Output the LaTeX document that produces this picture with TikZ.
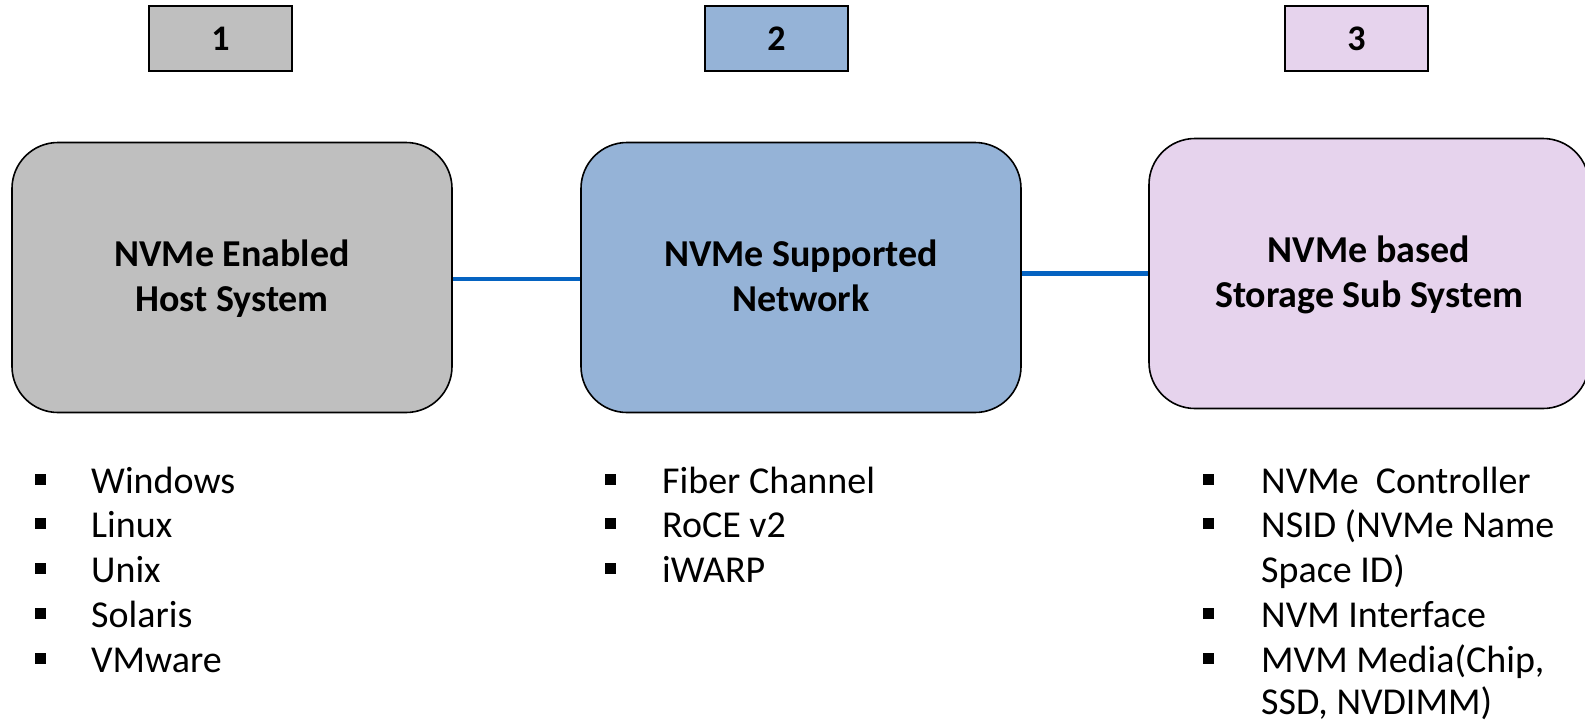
\documentclass[tikz,border=0pt]{standalone}
\usepackage{fontspec}
\setmainfont{Carlito}
\definecolor{hostgray}{HTML}{BFBFBF}
\definecolor{netblue}{HTML}{95B3D7}
\definecolor{storlilac}{HTML}{E6D3ED}
\definecolor{linkblue}{HTML}{0563C1}
% fixed line height so every two-line title sits at the same place
\newcommand{\titlestrut}{\rule[-10pt]{0pt}{43pt}}
\begin{document}
\begin{tikzpicture}[x=1pt,y=-1pt,
  tag/.style={draw=black, line width=1.4pt, minimum width=143pt, minimum height=65pt,
    inner sep=0pt, font=\fontsize{36}{40}\selectfont\bfseries},
  block/.style={draw=black, line width=1.6pt, rounded corners=46pt, minimum width=440pt,
    minimum height=270pt, inner sep=0pt, align=center,
    font=\fontsize{38}{45}\selectfont\bfseries},
  link/.style={draw=linkblue, line width=4.5pt},
  item/.style={anchor=base west, inner sep=0pt, font=\fontsize{38}{45}\selectfont},
  bul/.style={fill=black, minimum size=11pt, inner sep=0pt}]
\useasboundingbox (0,0) rectangle (1585,723);

% step numbers
\node[tag, fill=hostgray]  (t1) at (220.5,38.5) {1};
\node[tag, fill=netblue]   (t2) at (776.5,38.5) {2};
\node[tag, fill=storlilac] (t3) at (1356.5,38.5) {3};

% main blocks
\node[block, fill=hostgray]  (b1) at (232,277.5)
  {\titlestrut NVMe Enabled\\\titlestrut Host System};
\node[block, fill=netblue]   (b2) at (801,277.5)
  {\titlestrut NVMe Supported\\\titlestrut Network};
\node[block, fill=storlilac] (b3) at (1369,273.5)
  {\titlestrut NVMe based\\\titlestrut Storage Sub System};

% connections
\draw[link] ([yshift=-1.5pt]b1.east) -- ([yshift=-1.5pt]b2.west);
\draw[link] (b2.east |- b3.west) -- (b3.west);

% host operating systems
\foreach \t [count=\i] in {Windows,Linux,Unix,Solaris,VMware}{
  \node[bul] (hb\i) at (40,{479+44.8*(\i-1)}) {};
  \node[item] (hi\i) at (91,{493+44.8*(\i-1)}) {\t};
}

% network transports
\foreach \t [count=\i] in {Fiber Channel,RoCE v2,iWARP}{
  \node[bul] (nb\i) at (610,{479+44.8*(\i-1)}) {};
  \node[item] (ni\i) at (662,{493+44.8*(\i-1)}) {\t};
}

% storage subsystem parts
\node[bul] (sb1) at (1208,479) {};
\node[item] (si1) at (1261,493) {NVMe\hspace{0.45em}Controller};
\node[bul] (sb2) at (1208,523.8) {};
\node[item] (si2) at (1261,537.8) {NSID (NVMe Name};
\node[item] (si2b) at (1261,582.6) {Space ID)};
\node[bul] (sb3) at (1208,613.4) {};
\node[item] (si3) at (1261,627.4) {NVM Interface};
\node[bul] (sb4) at (1208,658.2) {};
\node[item] (si4) at (1261,672.2) {MVM Media(Chip,};
\node[item] (si4b) at (1261,714) {SSD, NVDIMM)};
\end{tikzpicture}
\end{document}
